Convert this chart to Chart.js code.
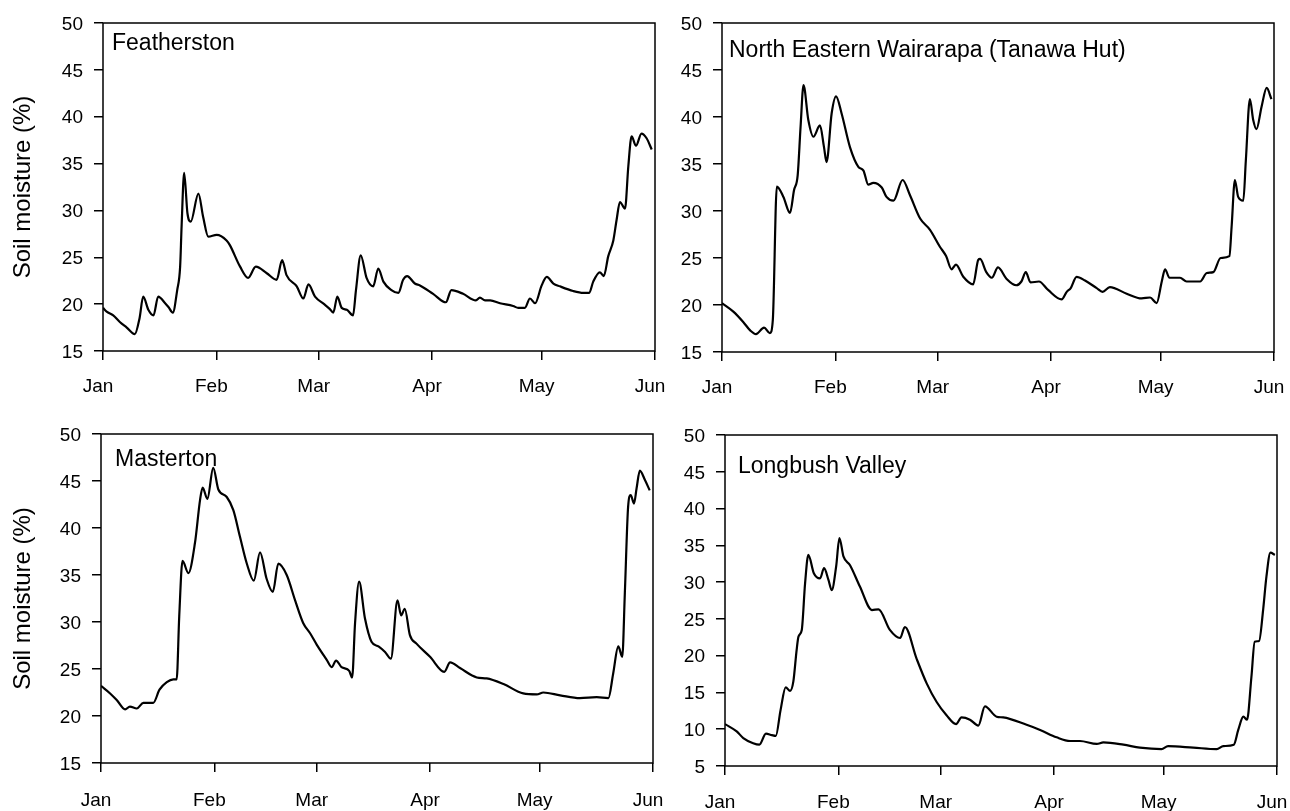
<!DOCTYPE html>
<html>
<head>
<meta charset="utf-8">
<script src="https://cdn.jsdelivr.net/npm/chart.js@4/dist/chart.umd.min.js"></script>
<style>
    html, body { margin: 0; padding: 0; background: #fff; overflow: hidden; }
    canvas { position: absolute; left: 0; top: 0; }
</style>
</head>
<body>
<canvas id="chartFeatherston" width="1290" height="811"></canvas>
<canvas id="chartWairarapa" width="1290" height="811"></canvas>
<canvas id="chartMasterton" width="1290" height="811"></canvas>
<canvas id="chartLongbush" width="1290" height="811"></canvas>
<script>
// Month ticks (day of year from 1 Jan) and their labels
const monthTicks = [0, 31, 59, 90, 120, 151];
const monthLabels = ['Jan', 'Feb', 'Mar', 'Apr', 'May', 'Jun'];

// Featherston soil moisture (%)
const featherstonDays = [0, 1, 2.8, 4.6, 6.5, 8.7, 10, 11, 12.4, 13.8, 15.1, 17, 17.9, 19.1, 20.3, 21.1, 21.5, 22.2, 23.1, 24,
    26.1, 27.4, 28.8, 31.1, 33.8, 34.7, 37.5, 39.7, 41.8, 44.8, 47.5, 49, 50.2, 53, 54.8, 56.2, 58, 60.5, 62, 63,
    64.1, 65.3, 66.7, 68.4, 69.2, 70.5, 72.1, 73.9, 75.3, 76.7, 78.9, 80.8, 82.1, 83.2, 85.3, 86.7, 90.3, 93.8, 95.3, 98.5,
    102, 103.1, 104.5, 105.9, 108.6, 112.2, 113.6, 115.4, 116.8, 118.2, 120, 121.4, 123.2, 125, 128.6, 131.4, 133, 134.1, 135.9, 137,
    138.2, 139.6, 140.5, 141.4, 142.8, 143.7, 144.6, 145.8, 147.3, 148.7, 150.1];
const featherstonValues = [19.6, 19.2, 18.8, 18.1, 17.5, 16.8, 18.5, 20.8, 19.4, 18.8, 20.8, 20.1, 19.7, 19.1, 21.5, 24.0, 28.3, 34.0, 29.7, 28.8,
    31.8, 29.3, 27.2, 27.4, 26.8, 26.3, 24.0, 22.8, 24.0, 23.3, 22.6, 24.7, 23.1, 21.9, 20.6, 22.1, 20.8, 20.0, 19.5, 19.1,
    20.8, 19.6, 19.4, 18.8, 21.5, 25.2, 22.8, 21.9, 23.8, 22.4, 21.5, 21.2, 22.6, 23.0, 22.2, 22.0, 21.1, 20.2, 21.5, 21.1,
    20.4, 20.7, 20.4, 20.4, 20.1, 19.8, 19.6, 19.6, 20.6, 20.1, 22.0, 22.9, 22.2, 21.9, 21.4, 21.2, 21.2, 22.4, 23.4, 23.0,
    25.1, 26.8, 29.0, 30.9, 30.2, 34.7, 37.9, 36.9, 38.2, 37.7, 36.5];

// North Eastern Wairarapa (Tanawa Hut) soil moisture (%)
const wairarapaDays = [0, 3.1, 5.8, 7.7, 9.3, 11.5, 13.1, 13.9, 15, 16.8, 18.6, 19.7, 20.7, 21.5, 22.3, 23.6, 25, 26.8, 27.9, 28.6,
    30, 31.2, 32.7, 35, 37.3, 38.7, 40, 41.4, 43.7, 45, 46.9, 49.4, 51.4, 54.2, 56.9, 59.6, 61.3, 62.8, 64, 66,
    68.7, 70.1, 70.6, 72.3, 73.8, 75.5, 77.8, 80.5, 81.9, 83.1, 84.4, 86.7, 89.2, 92.9, 94.3, 95.4, 97, 99.3, 102.5, 104.1,
    106.1, 110.7, 114.8, 117.1, 118.9, 120.3, 121.2, 122.4, 125.3, 127.1, 130.8, 132.6, 134.4, 136.4, 138.8, 139.4, 140.3, 141.2, 142.6, 143.3,
    144.4, 145.3, 146.2, 147.6, 149, 150.3];
const wairarapaValues = [20.2, 19.3, 18.2, 17.3, 16.9, 17.6, 17.0, 18.4, 32.6, 31.5, 29.8, 32.2, 33.8, 39.0, 43.4, 39.7, 37.9, 39.1, 36.8, 35.2,
    40.4, 42.2, 40.4, 36.8, 34.7, 34.3, 32.8, 33.0, 32.5, 31.5, 31.1, 33.3, 31.7, 29.2, 28.0, 26.2, 25.2, 23.8, 24.3, 23.0,
    22.2, 24.8, 24.9, 23.5, 22.9, 24.0, 22.8, 22.1, 22.5, 23.5, 22.4, 22.5, 21.6, 20.6, 21.4, 21.8, 23.0, 22.6, 21.8, 21.4,
    21.9, 21.2, 20.7, 20.8, 20.2, 22.5, 23.8, 22.9, 22.9, 22.5, 22.5, 23.4, 23.5, 25.0, 25.2, 28.3, 33.3, 31.5, 31.1, 35.4,
    41.9, 39.7, 38.7, 41.1, 43.1, 41.9];

// Masterton soil moisture (%)
const mastertonDays = [0, 2.5, 4.3, 6.6, 7.9, 9.8, 11.6, 14.3, 16, 18, 19.8, 20.7, 21.4, 22.3, 23.9, 25.7, 27.1, 27.8, 29.1, 30.7,
    32.1, 34.4, 36.2, 38, 39.9, 41.8, 43.5, 45.3, 47, 48.5, 50.8, 53.1, 55.3, 57.2, 59, 61.7, 63.1, 64.3, 65.8, 67.9,
    68.7, 69.5, 70.6, 72.2, 74, 75.9, 77.7, 79.3, 81.1, 82.1, 83.1, 84.5, 86.3, 90, 93.9, 95.5, 98.2, 102.8, 105.5, 110.1,
    115.5, 119.2, 121, 125.6, 131, 135.6, 138.8, 140.1, 141.5, 142.6, 143.3, 144.2, 144.9, 145.8, 146.5, 147.4, 148.8, 150.1];
const mastertonValues = [23.2, 22.4, 21.7, 20.7, 21.0, 20.8, 21.4, 21.4, 22.8, 23.6, 23.9, 23.9, 30.6, 36.5, 35.2, 38.4, 43.0, 44.3, 43.1, 46.4,
    44.1, 43.3, 41.9, 39.1, 36.2, 34.4, 37.4, 34.6, 33.2, 36.2, 35.0, 32.3, 29.9, 28.8, 27.6, 26.0, 25.2, 25.9, 25.2, 24.8,
    24.1, 29.9, 34.3, 30.4, 27.9, 27.4, 26.8, 26.1, 32.3, 30.7, 31.4, 28.6, 27.7, 26.3, 24.7, 25.7, 25.1, 24.1, 24.0, 23.4,
    22.4, 22.3, 22.5, 22.2, 21.9, 22.0, 21.9, 24.5, 27.4, 26.3, 33.1, 42.3, 43.5, 42.6, 44.2, 46.1, 45.1, 44.0];

// Longbush Valley soil moisture (%)
const longbushDays = [0, 3.2, 5, 7.7, 9.4, 11.2, 12.8, 13.9, 15.2, 16.6, 17.8, 18.7, 19.6, 20.1, 21, 21.9, 22.8, 24.3, 26, 27.1,
    28.3, 29.2, 30.4, 31.3, 32.4, 34.2, 36.9, 40.2, 42, 45.1, 47.9, 49.2, 52.4, 55.2, 57.9, 60.6, 63.2, 64.7, 67, 69.3,
    71.1, 74.3, 76.1, 82.5, 86.2, 90.7, 94.4, 97.1, 101.7, 103.5, 109, 113.5, 119.4, 121.2, 128.1, 134.5, 136.3, 139.2, 140.4, 141.8,
    142.8, 144, 144.9, 146.1, 147.2, 148.1, 149.2, 150.4];
const longbushValues = [10.7, 9.7, 8.8, 8.1, 7.9, 9.4, 9.2, 9.1, 12.6, 15.7, 15.2, 16.5, 20.8, 22.6, 23.5, 29.8, 33.7, 31.2, 30.5, 31.9,
    30.3, 28.9, 32.1, 36.0, 33.5, 32.3, 29.4, 26.2, 26.3, 23.5, 22.4, 23.9, 19.6, 16.2, 13.7, 11.9, 10.7, 11.6, 11.3, 10.5,
    13.1, 11.7, 11.6, 10.6, 9.9, 8.9, 8.4, 8.4, 8.0, 8.2, 7.9, 7.5, 7.3, 7.7, 7.5, 7.3, 7.7, 7.9, 9.9, 11.7,
    11.3, 17.1, 21.9, 22.0, 26.2, 30.7, 34.0, 33.7];

const FONT = 'Liberation Sans, Arial, sans-serif';

// Box around the plot area
const framePlugin = {
    id: 'frame',
    afterDraw(chart) {
        const a = chart.chartArea;
        const ctx = chart.ctx;
        ctx.save();
        ctx.strokeStyle = '#000';
        ctx.lineWidth = 1.5;
        ctx.strokeRect(a.left, a.top, a.right - a.left, a.bottom - a.top);
        ctx.restore();
    }
};

// Site name written inside the plot, top left
const siteLabelPlugin = {
    id: 'siteLabel',
    afterDraw(chart, args, opts) {
        const a = chart.chartArea;
        const ctx = chart.ctx;
        ctx.save();
        ctx.fillStyle = '#000';
        ctx.font = '23px ' + FONT;
        ctx.textAlign = 'left';
        ctx.textBaseline = 'alphabetic';
        ctx.fillText(opts.text, a.left + opts.dx, a.top + opts.dy);
        ctx.restore();
    }
};

function toPoints(days, values) {
    return days.map((d, i) => ({ x: d, y: values[i] }));
}

// One panel; each canvas covers the page, padding places the plot box
function createPanel(id, days, values, p) {
    const ctx = document.getElementById(id).getContext('2d');
    return new Chart(ctx, {
        type: 'line',
        data: {
            datasets: [{
                data: toPoints(days, values),
                borderColor: '#000',
                borderWidth: 2.2,
                pointRadius: 0,
                cubicInterpolationMode: 'monotone',
                fill: false
            }]
        },
        options: {
            responsive: false,
            animation: false,
            devicePixelRatio: 1,
            layout: { padding: { left: p.left - p.yWidth, top: p.top, right: 1290 - p.right, bottom: 811 - p.bottom - p.xHeight } },
            plugins: {
                legend: { display: false },
                tooltip: { enabled: false },
                siteLabel: { text: p.label, dx: p.dx, dy: p.dy }
            },
            scales: {
                x: {
                    type: 'linear',
                    min: 0,
                    max: 151,
                    afterBuildTicks: scale => { scale.ticks = monthTicks.map(v => ({ value: v })); },
                    afterFit: scale => { scale.height = p.xHeight; scale.paddingLeft = 0; scale.paddingRight = 0; },
                    grid: { drawOnChartArea: false, drawTicks: true, tickLength: 9, color: '#000', lineWidth: 1.5 },
                    border: { display: false },
                    ticks: {
                        color: '#000',
                        padding: p.xPad,
                        labelOffset: -5,
                        maxRotation: 0,
                        autoSkip: false,
                        font: { family: FONT, size: 19 },
                        callback: v => monthLabels[monthTicks.indexOf(v)]
                    }
                },
                y: {
                    min: p.yMin,
                    max: 50,
                    afterFit: scale => { scale.width = p.yWidth; scale.paddingTop = 0; scale.paddingBottom = 0; },
                    grid: { drawOnChartArea: false, drawTicks: true, tickLength: 9, color: '#000', lineWidth: 1.5 },
                    border: { display: false },
                    ticks: {
                        color: '#000',
                        padding: 11,
                        labelOffset: 1.5,
                        stepSize: 5,
                        font: { family: FONT, size: 19 }
                    },
                    title: {
                        display: p.showTitle,
                        text: 'Soil moisture (%)',
                        color: '#000',
                        padding: { top: 8.5, bottom: 0 },
                        font: { family: FONT, size: 24 }
                    }
                }
            }
        },
        plugins: [framePlugin, siteLabelPlugin]
    });
}

function initPanels() {
    createPanel('chartFeatherston', featherstonDays, featherstonValues,
        { left: 103, top: 23, right: 655, bottom: 351, xHeight: 55, xPad: 15, yWidth: 103, yMin: 15, showTitle: true, label: 'Featherston', dx: 9, dy: 27 });
    createPanel('chartWairarapa', wairarapaDays, wairarapaValues,
        { left: 722, top: 23, right: 1274, bottom: 352, xHeight: 55, xPad: 15, yWidth: 60, yMin: 15, showTitle: false, label: 'North Eastern Wairarapa (Tanawa Hut)', dx: 7, dy: 34 });
    createPanel('chartMasterton', mastertonDays, mastertonValues,
        { left: 101, top: 434, right: 653, bottom: 763, xHeight: 48, xPad: 17, yWidth: 101, yMin: 15, showTitle: true, label: 'Masterton', dx: 14, dy: 32 });
    createPanel('chartLongbush', longbushDays, longbushValues,
        { left: 725, top: 435, right: 1277, bottom: 766, xHeight: 45, xPad: 16, yWidth: 60, yMin: 5, showTitle: false, label: 'Longbush Valley', dx: 13, dy: 38 });
}

document.addEventListener('DOMContentLoaded', initPanels);
</script>
</body>
</html>
